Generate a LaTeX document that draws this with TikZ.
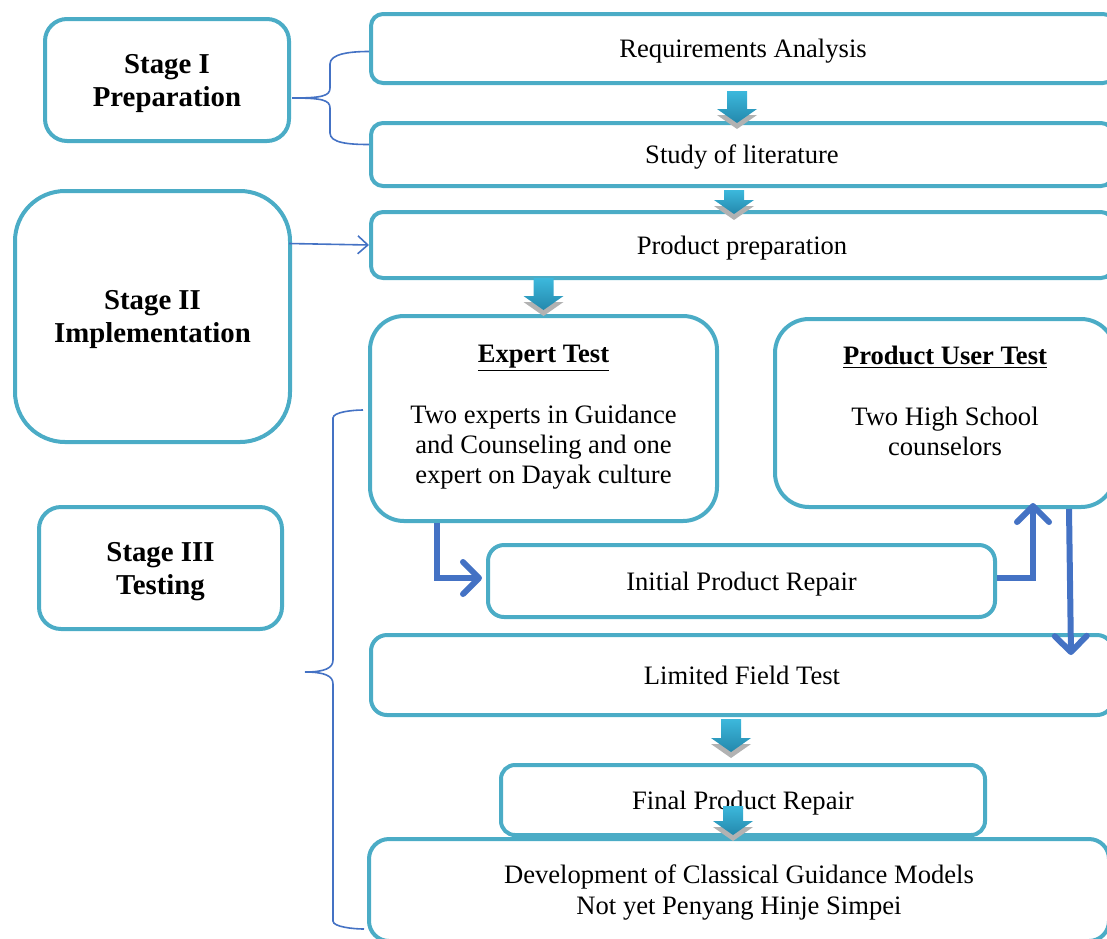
\documentclass[tikz,border=0pt]{standalone}
\usepackage{fontspec}
\setmainfont{Liberation Serif}
\usetikzlibrary{arrows.meta}
\usetikzlibrary{calc}
\definecolor{boxcol}{RGB}{75,172,198}
\definecolor{linkcol}{RGB}{68,114,196}
\definecolor{arrowtop}{RGB}{60,184,220}
\definecolor{arrowbot}{RGB}{36,136,172}
\tikzset{stagebox/.style={draw=boxcol, line width=2pt, align=center, inner sep=0pt, text depth=-2.5pt,
   font=\fontsize{14.4}{16.5}\selectfont\bfseries},
 stepbox/.style={draw=boxcol, line width=2pt, align=center, inner sep=0pt, text depth=-1pt,
   font=\fontsize{13.3}{15.5}\selectfont},
 boxtext/.style={align=center, inner sep=0pt, font=\fontsize{13.3}{15}\selectfont},
 bluearrow/.style={draw=linkcol, line width=3pt, -{Straight Barb[length=8pt,width=16pt,round]}},
 brace/.style={draw=linkcol, line width=0.8pt},
 pics/flowdown/.style={code={
   \fill[gray!60] (-20,#1-14+6) -- (0,#1+6) -- (20,#1-14+6) -- cycle;
   \shade[top color=arrowtop, bottom color=arrowbot] (-10,0) -- (10,0) -- (10,#1-14)
     -- (20,#1-14) -- (0,#1) -- (-20,#1-14) -- (-10,#1-14) -- cycle;
 }},
 }

\begin{document}
\begin{tikzpicture}[x=0.5pt, y=-0.5pt]
    \useasboundingbox (0,0) rectangle (1107,938);
    \clip (0,0) rectangle (1107,938);

    % stages
    \node[stagebox, rounded corners=11pt, minimum width=122pt, minimum height=61pt] (stage1) at (167,80) {Stage I\\Preparation};
    \node[stagebox, rounded corners=25pt, minimum width=137.5pt, minimum height=125.5pt] (stage2) at (152.5,316.5) {Stage II\\Implementation};
    \node[stagebox, rounded corners=11pt, minimum width=121.5pt, minimum height=61pt] (stage3) at (160.5,568) {Stage III\\Testing};

    % steps
    \node[stepbox, rounded corners=6pt, minimum width=372pt, minimum height=34.5pt] (req) at (743,48.5) {Requirements Analysis};
    \node[stepbox, rounded corners=6pt, minimum width=371pt, minimum height=31.5pt] (lit) at (742,154.5) {Study of literature};
    \node[stepbox, rounded corners=6pt, minimum width=371pt, minimum height=33pt] (prep) at (742,245) {Product preparation};
    \node[stepbox, rounded corners=17pt, minimum width=173.5pt, minimum height=102.5pt] (expert) at (543.5,418.5) {};
    \node[boxtext] (experttxt) at (543.5,417) {\underline{\textbf{Expert Test}}\\[15.5pt]
        Two experts in Guidance\\and Counseling and one\\expert on Dayak culture};
    \node[stepbox, rounded corners=17pt, minimum width=170pt, minimum height=94pt] (user) at (945,413) {};
    \node[boxtext] (usertxt) at (945,401) {\underline{\textbf{Product User Test}}\\[15.5pt]
        Two High School\\counselors};
    \node[stepbox, rounded corners=8pt, minimum width=253.5pt, minimum height=36pt] (initial) at (741.5,581) {Initial Product Repair};
    \node[stepbox, rounded corners=8pt, minimum width=371pt, minimum height=40pt] (limited) at (742,675) {Limited Field Test};
    \node[stepbox, rounded corners=7pt, minimum width=242pt, minimum height=35pt] (final) at (743,800) {Final Product Repair};
    \node[stepbox, rounded corners=10pt, minimum width=370pt, minimum height=51pt] (dev) at (739,890) {Development of Classical Guidance Models\\Not yet Penyang Hinje Simpei};

    % block arrows
    \pic at ($(req.south)+(-6,6)$) {flowdown=32};
    \pic at ($(lit.south)+(-8,2)$) {flowdown=24};
    \pic at ($(expert.north)+(0,-36)$) {flowdown=32};
    \pic at ($(limited.south)+(-11,2)$) {flowdown=33};
    \pic at ($(final.south)+(-10,-31)$) {flowdown=29};

    % test arrows
    \draw[bluearrow] ($(expert.south)+(-107,0)$) |- ($(initial.west)+(-4,-3)$);
    \draw[bluearrow] ($(initial.east)+(0,-3)$) -| ($(user.south)+(88,-6)$);
    \draw[bluearrow] ($(user.south)+(124,0)$) -- ($(limited.north)+(329,22)$);

    % braces
    \draw[brace] ($(stage1.east)+(1,18)$) .. controls +(30,0) and +(0,8) .. (330,88)
        -- (330,64) .. controls +(0,-10) and +(-20,0) .. ($(req.west)+(0,3)$);
    \draw[brace] ($(stage1.east)+(1,18)$) .. controls +(30,0) and +(0,-8) .. (330,108)
        -- (330,133) .. controls +(0,10) and +(-20,0) .. ($(lit.west)+(0,-10)$);
    \draw[brace, -{Straight Barb[length=5pt,width=9pt]}] ($(stage2.east)+(-3,-73)$) -- (prep.west);
    \draw[brace] (305,672) .. controls +(20,0) and +(0,8) .. (333,660)
        -- (333,418) .. controls +(0,-6) and +(-10,0) .. (363,410);
    \draw[brace] (305,672) .. controls +(20,0) and +(0,-8) .. (333,684)
        -- (333,921) .. controls +(0,6) and +(-10,0) .. (364,929);
\end{tikzpicture}
\end{document}
